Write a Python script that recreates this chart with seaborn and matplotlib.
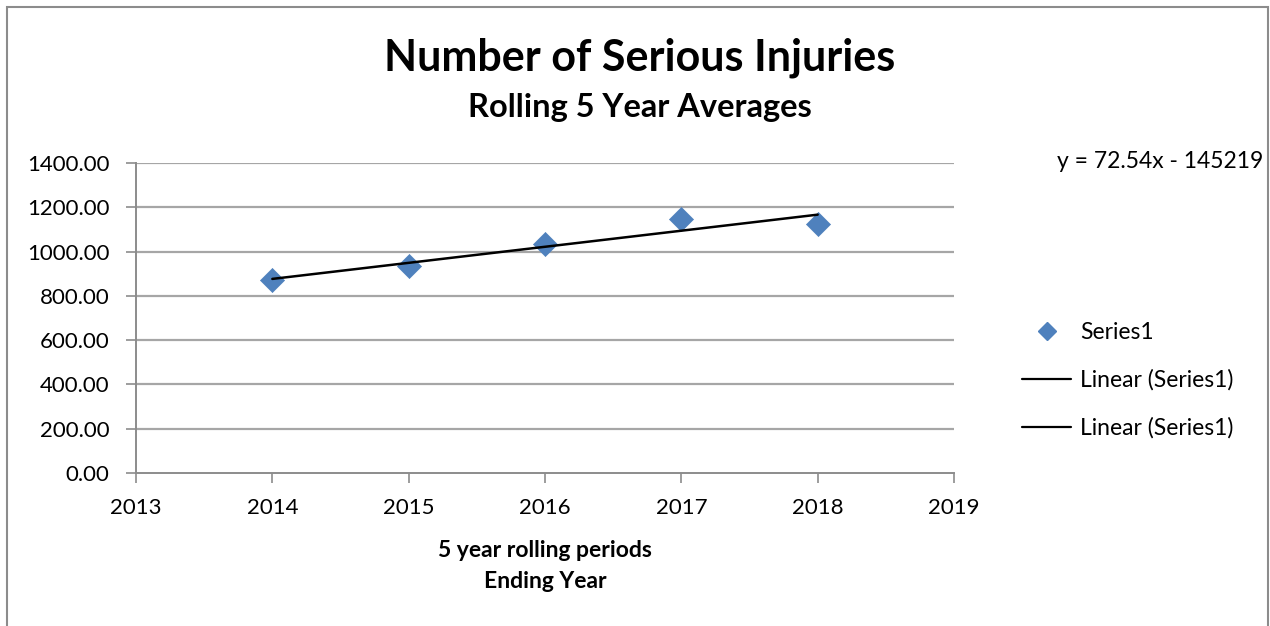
import numpy as np
import pandas as pd
import matplotlib
matplotlib.use("Agg")
import matplotlib.pyplot as plt
from matplotlib.lines import Line2D
from matplotlib.patches import Rectangle
import seaborn as sns

# Rolling 5-year averages of serious injuries, by ending year
years = [2014, 2015, 2016, 2017, 2018]
injuries = [870, 933, 1032, 1147, 1126]

# Linear trendline coefficients (as shown in the equation label)
trend_slope = 72.54
trend_intercept = -145219

x_ticks = [2013, 2014, 2015, 2016, 2017, 2018, 2019]
y_ticks = [0, 200, 400, 600, 800, 1000, 1200, 1400]

sns.set_theme(style="white")
plt.rcParams["font.family"] = ["Lato", "DejaVu Sans"]
plt.rcParams["text.color"] = "black"
plt.rcParams["axes.labelcolor"] = "black"

fig = plt.figure(figsize=(12.7, 6.26), dpi=100)
ax = fig.add_axes([136 / 1270, 1 - 473 / 626, (954 - 136) / 1270, (473 - 163) / 626])

df = pd.DataFrame({"year": years, "injuries": injuries})
trend_df = pd.DataFrame({"year": [years[0], years[-1]]})
trend_df["fit"] = trend_slope * trend_df["year"] + trend_intercept

for y in y_ticks[1:]:
    ax.axhline(y, color="#a6a6a6", lw=1.6, zorder=0)

sns.scatterplot(data=df, x="year", y="injuries", marker="D", s=150,
                color="#4f81bd", edgecolor="#4f81bd", linewidth=0.5, ax=ax, zorder=3, legend=False)
sns.lineplot(data=trend_df, x="year", y="fit", color="black", lw=1.8, ax=ax, zorder=4, legend=False)

ax.set_xlim(2013, 2019)
ax.set_ylim(0, 1400)
ax.set_xticks(x_ticks)
ax.set_xticklabels([str(t) for t in x_ticks])
ax.set_yticks(y_ticks)
ax.set_yticklabels([f"{t:.2f}" for t in y_ticks])
ax.tick_params(axis="both", labelsize=16, labelcolor="black", color="#8c8c8c",
               length=7, width=1.2, direction="out")
ax.tick_params(axis="y", pad=12)
ax.tick_params(axis="x", pad=11)
ax.xaxis.set_ticks_position("bottom")
ax.yaxis.set_ticks_position("left")
for side in ["top", "right"]:
    ax.spines[side].set_visible(False)
for side in ["left", "bottom"]:
    ax.spines[side].set_color("#8c8c8c")
    ax.spines[side].set_linewidth(1.4)
ax.set_xlabel("5 year rolling periods\nEnding Year", fontsize=16.5, fontweight="bold",
              linespacing=1.6, labelpad=16)
ax.set_ylabel("")

fig.text(640 / 1270, 1 - 58 / 626, "Number of Serious Injuries", ha="center", va="center",
         fontsize=31, fontweight="bold")
fig.text(640 / 1270, 1 - 108 / 626, "Rolling 5 Year Averages", ha="center", va="center",
         fontsize=23.5, fontweight="bold")
fig.text(1057 / 1270, 1 - 161 / 626, "y = 72.54x - 145219", ha="left", va="center", fontsize=16.5)

handles = [
    Line2D([], [], marker="D", color="#4f81bd", linestyle="none", markersize=9),
    Line2D([], [], color="black", lw=1.6),
    Line2D([], [], color="black", lw=1.6),
]
labels = ["Series1", "Linear (Series1)", "Linear (Series1)"]
fig.legend(handles, labels, loc="upper left", bbox_to_anchor=(1022 / 1270, 1 - 322 / 626),
           frameon=False, fontsize=16.5, handlelength=2.15, handletextpad=0.4, labelspacing=1.15,
           borderaxespad=0, borderpad=0)

fig.patches.append(Rectangle((7 / 1270, -0.05), (1268 - 7) / 1270, 1.05 - 7 / 626,
                             transform=fig.transFigure, fill=False, edgecolor="#8c8c8c",
                             lw=1.5, zorder=10))

fig.savefig("out.png", dpi=100)
